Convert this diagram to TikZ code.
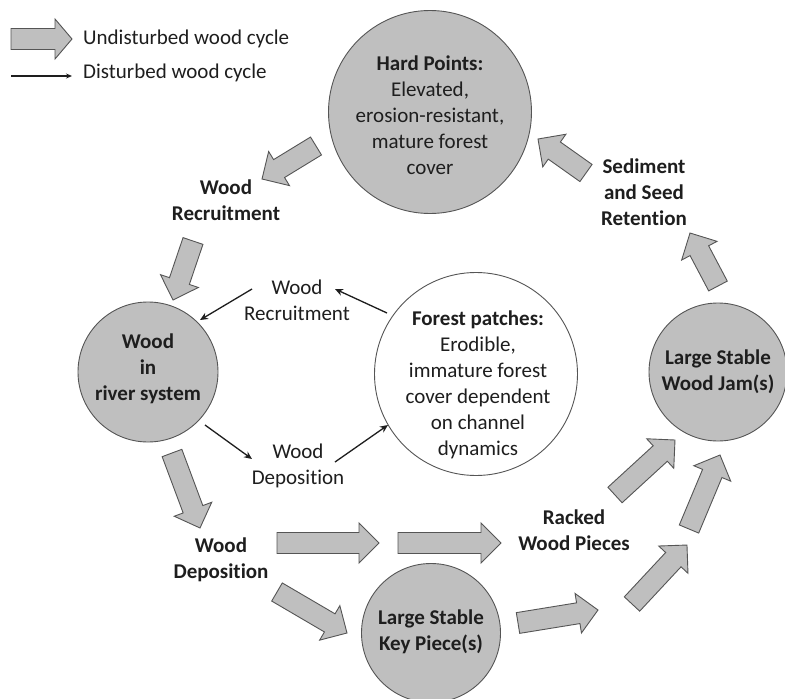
\documentclass[tikz,border=0pt]{standalone}
\usepackage{fontspec}
\setmainfont{Carlito}[Ligatures=NoCommon]
\usetikzlibrary{arrows.meta}
\definecolor{boxgray}{RGB}{191,191,191}
\definecolor{edgegray}{RGB}{85,85,85}
\definecolor{inkgray}{RGB}{30,30,30}
\tikzset{
  blockarrow/.style={draw=edgegray, fill=boxgray, line width=0.9pt, line join=miter},
  circbox/.style={circle, draw=edgegray, fill=boxgray, line width=0.9pt, inner sep=0pt},
  whitecirc/.style={circle, draw=edgegray, fill=white, line width=0.9pt, inner sep=0pt},
  txt/.style={align=center, inner sep=0pt, text=inkgray, font=\fontsize{21}{26}\selectfont},
  btxt/.style={txt, font=\fontsize{21}{26}\selectfont\bfseries},
  thinarrow/.style={draw=inkgray, line width=1.3pt, -{Stealth[length=8pt,width=7pt]}}
}
\newcommand\blockarr[5][20]{%
  \pgfmathsetmacro\bdx{#4-#2}%
  \pgfmathsetmacro\bdy{#5-#3}%
  \pgfmathsetmacro\bang{atan2(-\bdy,\bdx)}%
  \pgfmathsetmacro\blen{veclen(\bdx,\bdy)}%
  \pgfmathsetmacro\bneck{\blen-#1}%
  \draw[blockarrow,shift={(#2,#3)},rotate=\bang] (0,-10.5) -- (\bneck,-10.5) -- (\bneck,-20) -- (\blen,0) -- (\bneck,20) -- (\bneck,10.5) -- (0,10.5) -- cycle;}
\begin{document}
\begin{tikzpicture}[x=1pt,y=-1pt]
\useasboundingbox[fill=white] (0,0) rectangle (785,699);

% circles
\node[circbox, minimum size=203pt] (hp) at (430,112) {};
\node[circbox, minimum size=140pt] (wr) at (148,372) {};
\node[whitecirc, minimum size=203pt] (fp) at (476,374) {};
\node[circbox, minimum size=138pt] (wj) at (718,372) {};
\node[circbox, minimum size=139pt] (kp) at (431,633) {};

% circle texts
\node[txt] (hpt) at (430,115) {\textbf{Hard Points:}\\Elevated,\\erosion-resistant,\\mature forest\\cover};
\node[btxt] (wrt) at (148,369) {Wood\\in\\river system};
\node[txt] (fpt) at (478,385) {\textbf{Forest patches:}\\Erodible,\\immature forest\\cover dependent\\on channel\\dynamics};
\node[btxt] (wjt) at (718,372) {Large Stable\\Wood Jam(s)};
\node[btxt] (kpt) at (431,632) {Large Stable\\Key Piece(s)};

% cycle labels
\node[btxt] (lrec) at (226,200) {Wood\\Recruitment};
\node[btxt] (ldep) at (221,560) {Wood\\Deposition};
\node[btxt] (lrack) at (574,530) {Racked\\Wood Pieces};
\node[btxt] (lsed) at (644,192) {Sediment\\and Seed\\Retention};
\node[txt] (drec) at (297,300) {Wood\\Recruitment};
\node[txt] (ddep) at (298,466) {Wood\\Deposition};

% legend
\blockarr[17]{11}{39}{72}{39}
\node[txt, anchor=west] (lgu) at (83,39) {Undisturbed wood cycle};
\coordinate (lga) at (11,76);
\coordinate (lgb) at (72,76);
\draw[thinarrow, line width=1.1pt, -{Stealth[length=6pt,width=5pt]}] (lga) -- (lgb);
\node[txt, anchor=west] (lgd) at (83,73) {Disturbed wood cycle};

% block arrows (undisturbed cycle)
\blockarr{316}{146}{262}{179}
\blockarr{193}{241}{173}{300}
\blockarr{172}{453}{200}{528}
\blockarr{277}{543}{379}{543}
\blockarr{398}{543}{501}{543}
\blockarr{277}{592}{347}{633}
\blockarr{518}{623}{598}{610}
\blockarr{632}{604}{687}{545}
\blockarr{615}{495}{675}{440}
\blockarr{689}{529}{720}{455}
\blockarr{718}{286}{690}{233}
\blockarr{586}{173}{538}{139}

% thin arrows (disturbed cycle)
\coordinate (a1) at (387,313); \coordinate (a2) at (335,289);
\coordinate (b1) at (252,289); \coordinate (b2) at (200,320);
\coordinate (c1) at (205,425); \coordinate (c2) at (252,459);
\coordinate (d1) at (335,462); \coordinate (d2) at (388,425);
\draw[thinarrow] (a1) -- (a2);
\draw[thinarrow] (b1) -- (b2);
\draw[thinarrow] (c1) -- (c2);
\draw[thinarrow] (d1) -- (d2);
\end{tikzpicture}
\end{document}
